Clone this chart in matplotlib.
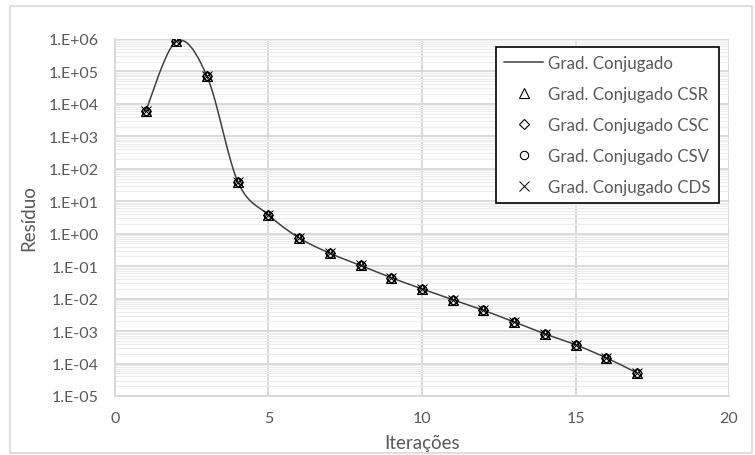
import numpy as np
import matplotlib
matplotlib.use("Agg")
import matplotlib.pyplot as plt
from matplotlib.patches import Rectangle

# ---- data ----
iteracoes = [1, 2, 3, 4, 5, 6, 7, 8, 9, 10, 11, 12, 13, 14, 15, 16, 17]
residuo = [6.0e3, 8.5e5, 7.0e4, 40, 3.8, 0.74, 0.25, 0.105, 0.044, 0.020,
           0.0093, 0.0044, 0.0019, 8.2e-4, 3.8e-4, 1.5e-4, 5.2e-5]
series_names = ["Grad. Conjugado", "Grad. Conjugado CSR", "Grad. Conjugado CSC",
                "Grad. Conjugado CSV", "Grad. Conjugado CDS"]
series_values = [residuo, residuo, residuo, residuo, residuo]
ytick_labels = ["1.E-05", "1.E-04", "1.E-03", "1.E-02", "1.E-01", "1.E+00",
                "1.E+01", "1.E+02", "1.E+03", "1.E+04", "1.E+05", "1.E+06"]
xticks = [0, 5, 10, 15, 20]

plt.rcParams['font.family'] = ['Lato', 'DejaVu Sans']
txt = '#595959'

fig = plt.figure(figsize=(7.55, 4.56), dpi=100)
fig.patches.append(Rectangle((0.013, 0.004), 0.983, 0.981, transform=fig.transFigure,
                             fill=False, edgecolor='#d9d9d9', lw=1.2))
ax = fig.add_axes([0.1523, 0.1294, 0.8133, 0.7829])


def smooth(xs, ys, n=40):
    # Excel-like smoothed line (Catmull-Rom Bezier) in (x, log y) space
    px = np.asarray(xs, float)
    py = np.log10(np.asarray(ys, float))
    P = np.column_stack([px, py])
    out = []
    m = len(P)
    for i in range(m - 1):
        p0 = P[i - 1] if i > 0 else P[i]
        p1 = P[i]
        p2 = P[i + 1]
        p3 = P[i + 2] if i + 2 < m else P[i + 1]
        c1 = p1 + (p2 - p0) / 6.0
        c2 = p2 - (p3 - p1) / 6.0
        t = np.linspace(0, 1, n)[:, None]
        b = ((1 - t) ** 3) * p1 + 3 * ((1 - t) ** 2) * t * c1 + 3 * (1 - t) * t ** 2 * c2 + t ** 3 * p2
        out.append(b if i == 0 else b[1:])
    out = np.vstack(out)
    return out[:, 0], 10 ** out[:, 1]

# line series
sx, sy = smooth(iteracoes, series_values[0])
ax.plot(sx, sy, color='#404040', lw=1.1, label=series_names[0], zorder=3)

markers = ['^', 'D', 'o', 'x']
msizes = [6.5, 5, 6, 7]
for name, vals, mk, ms in zip(series_names[1:], series_values[1:], markers, msizes):
    if mk == 'x':
        ax.plot(iteracoes, vals, linestyle='none', marker=mk, ms=ms, color='black',
                mew=0.7, label=name, zorder=4)
    else:
        ax.plot(iteracoes, vals, linestyle='none', marker=mk, ms=ms, markerfacecolor='none',
                markeredgecolor='black', mew=0.8, label=name, zorder=4)

ax.set_yscale('log')
ax.set_ylim(1e-5, 1e6)
ax.set_xlim(0, 20)
ax.set_yticks([10.0 ** k for k in range(-5, 7)])
ax.set_yticklabels(ytick_labels)
ax.set_xticks(xticks)
ax.set_xticklabels([str(v) for v in xticks])
ax.yaxis.set_minor_locator(matplotlib.ticker.LogLocator(base=10, subs=np.arange(2, 10), numticks=100))
ax.yaxis.set_minor_formatter(matplotlib.ticker.NullFormatter())

ax.grid(True, which='major', axis='both', color='#d9d9d9', lw=1.4, zorder=0)
ax.grid(True, which='minor', axis='y', color='#ececec', lw=0.8, zorder=0)
ax.set_axisbelow(True)
for s in ['top', 'right']:
    ax.spines[s].set_visible(False)
for s in ['left', 'bottom']:
    ax.spines[s].set_color('#d9d9d9')
    ax.spines[s].set_linewidth(1.4)
ax.tick_params(axis='both', which='both', length=0, colors=txt, labelsize=11.5)
ax.tick_params(axis='x', pad=11)
ax.tick_params(axis='y', pad=12)

ax.set_xlabel('Iterações', fontsize=13.5, color=txt, labelpad=6)
ax.set_ylabel('Resíduo', fontsize=13.5, color=txt, labelpad=8)

leg = ax.legend(loc='upper right', bbox_to_anchor=(0.9837, 0.9785), fontsize=12.2,
                frameon=True, fancybox=False, edgecolor='black', framealpha=1,
                labelcolor=txt, handlelength=2.3, handletextpad=0.3,
                borderpad=0.5, labelspacing=0.88, borderaxespad=0)
leg.get_frame().set_linewidth(1.2)

fig.savefig('out.png', dpi=100)
